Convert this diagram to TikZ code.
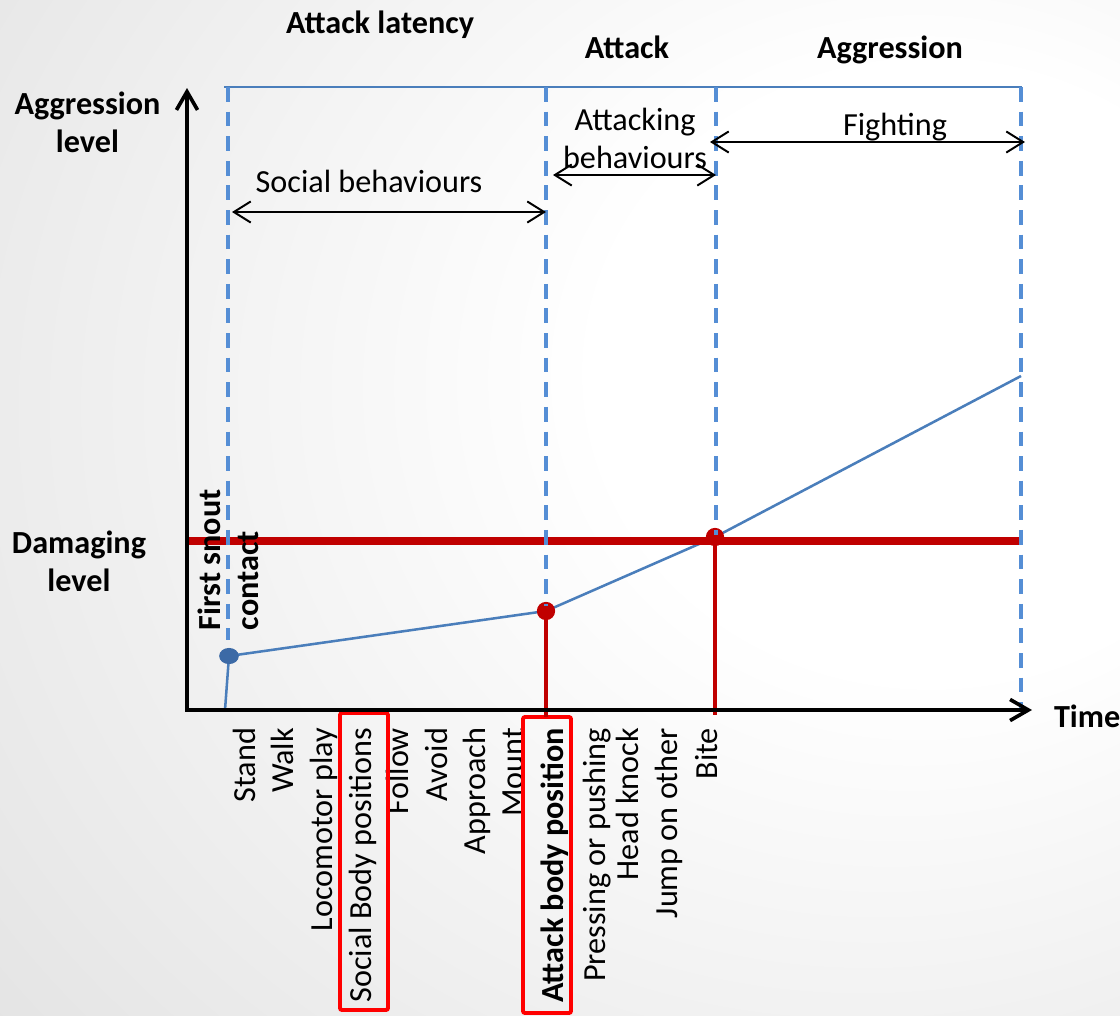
\documentclass[tikz,border=0pt]{standalone}
\usepackage{fontspec}
\setmainfont{Carlito}
\usetikzlibrary{arrows.meta,shapes.geometric}
\definecolor{dashblue}{HTML}{558ED5}
\definecolor{lineblue}{HTML}{4A7EBB}
\definecolor{dotblue}{HTML}{3C6AA6}
\definecolor{darkred}{HTML}{C00000}
\definecolor{boxred}{HTML}{FF0000}
% soft grey glow behind the chart, brightest right of centre
\pgfdeclareradialshading{bgglow}{\pgfpoint{20bp}{8bp}}{color(0bp)=(white); color(15bp)=(white); color(50bp)=(black!12); color(70bp)=(black!20); color(90bp)=(black!27)}

\begin{document}
\begin{tikzpicture}[x=0.025cm,y=-0.025cm,
  txt/.style={font=\fontsize{22.9}{27}\selectfont, inner sep=0pt, outer sep=0pt},
  btxt/.style={txt, font=\fontsize{22.9}{27}\selectfont\bfseries},
  vlabel/.style={txt, rotate=90, anchor=base east},
  barb/.style={>={Straight Barb[length=12pt,width=15pt]}},
  span/.style={barb, <->, line width=1.4pt},
  axis/.style={line width=2.6pt, <->, >={Straight Barb[length=13pt,width=15pt]}},
  phase/.style={dashblue, line width=2.6pt, dash pattern=on 10.5pt off 7pt},
  levelline/.style={darkred, line width=5.7pt},
  marker/.style={darkred, line width=2.5pt},
  trend/.style={lineblue, line width=1.8pt, line join=round},
  hilite/.style={boxred, line width=2.8pt, rounded corners=1.5pt},
  reddot/.style={circle, fill=darkred, minimum size=13pt, inner sep=0pt},
  bluedot/.style={ellipse, fill=dotblue, minimum width=14pt, minimum height=11.5pt, inner sep=0pt}
]
% background
\shade[shading=bgglow] (0,0) rectangle (1120,1015);
\useasboundingbox (0,0) rectangle (1120,1015);

% phase headings
\node[btxt, anchor=base] (hlat) at (380,33) {Attack latency};
\node[btxt, anchor=base] (hatt) at (627,58) {Attack};
\node[btxt, anchor=base] (hagg) at (890,58) {Aggression};

% axis titles (base anchor sits on the last line)
\node[btxt, align=center, anchor=base] (yt) at (87.5,152) {Aggression\\level};
\node[btxt, align=center, anchor=base] (dl) at (79,591) {Damaging\\level};
\node[btxt, anchor=base west] (tt) at (1054,727) {Time};

% behaviour group labels
\node[txt, anchor=base] (soc) at (369,192) {Social behaviours};
\node[txt, align=center, anchor=base] (atk) at (635,168) {Attacking\\behaviours};
\node[txt, anchor=base] (fig) at (895,135) {Fighting};

% behaviours along the time axis
\node[vlabel] (b1) at (255,728) {Stand};
\node[vlabel] (b2) at (293,728) {Walk};
\node[vlabel] (b3) at (332,728) {Locomotor play};
\node[vlabel] (b4) at (371,728) {Social Body positions};
\node[vlabel] (b5) at (408,728) {Follow};
\node[vlabel] (b6) at (447,728) {Avoid};
\node[vlabel] (b7) at (485,728) {Approach};
\node[vlabel] (b8) at (523,728) {Mount};
\node[vlabel, font=\fontsize{22.9}{27}\selectfont\bfseries] (b9) at (563,728) {Attack body position};
\node[vlabel] (b10) at (605,728) {Pressing or pushing};
\node[vlabel] (b11) at (638,728) {Head knock};
\node[vlabel] (b12) at (677,728) {Jump on other};
\node[vlabel] (b13) at (717,728) {Bite};

% highlighted behaviours
\draw[hilite] (340,713) rectangle (388,1010);
\draw[hilite] (523,717) rectangle (571,1013);

% key points of the aggression curve
\coordinate (p0) at (225,710);
\coordinate (p1) at (229,656);
\coordinate (p2) at (546,611);
\coordinate (p3) at (715,537);
\coordinate (p4) at (1021,376);
\coordinate (sbot) at (546,717);
\coordinate (bbot) at (715,715);

% phase frame top
\draw[lineblue, line width=1.5pt] (224,87) -- (1022,87);

% markers down to the time axis
\draw[marker] (p2) -- (sbot);
\draw[marker] (p3) -- (bbot);

% aggression curve
\draw[trend] (p0) -- (p1) -- (p2) -- (p3) -- (p4);

% damaging level
\coordinate (dl0) at (187,541);
\coordinate (dl1) at (1021,541);
\draw[levelline] (dl0) -- (dl1);

% first contact label
\node[btxt, rotate=90, anchor=base west] (fs1) at (220,630) {First snout};
\node[btxt, rotate=90, anchor=base west] (fs2) at (258,630) {contact};

% events
\node[bluedot] (d1) at (p1) {};
\node[reddot] (d2) at (p2) {};
\node[reddot] (d3) at (p3) {};

% phase boundaries
\draw[phase] (228,87) -- (228,640);
\draw[phase] (546,87) -- (546,606);
\draw[phase] (716,87) -- (716,535);
\draw[phase] (1021,87) -- (1021,710);

% spans
\draw[span] (232,212) -- (546,212);
\draw[span] (553,175) -- (716,175);
\draw[span] (710,142) -- (1025,142);

% axes
\coordinate (ytop) at (187,88);
\coordinate (org) at (187,710);
\coordinate (xend) at (1032,710);
\draw[axis] (ytop) -- (org) -- (xend);
\end{tikzpicture}
\end{document}
